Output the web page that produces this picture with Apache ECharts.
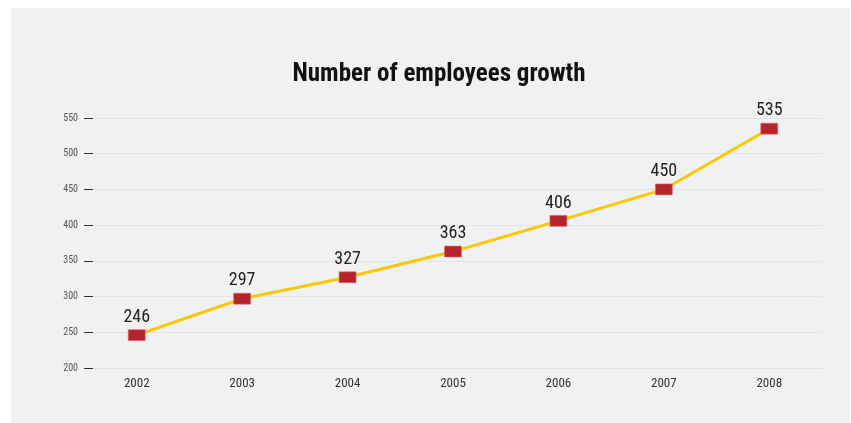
<!DOCTYPE html>
<html>
<head>
<meta charset="utf-8">
<script src="https://cdn.jsdelivr.net/npm/echarts@6/dist/echarts.min.js"></script>
<style>
html,body{margin:0;padding:0;background:#ffffff;}
#panel{position:absolute;left:11px;top:8px;width:839px;height:415px;background:#f0f1f3;}
#chart{position:absolute;left:0;top:0;width:851px;height:423px;}
</style>
</head>
<body>
<div id="panel"></div>
<div id="chart"></div>
<script>
const years = ['2002','2003','2004','2005','2006','2007','2008'];
const employees = [246, 297, 327, 363, 406, 450, 535];
const yTicks = [200, 250, 300, 350, 400, 450, 500, 550];

const FONT = '"Roboto Condensed","Liberation Sans Narrow",sans-serif';
const chart = echarts.init(document.getElementById('chart'), null, {renderer:'canvas'});
chart.setOption({
  backgroundColor: 'transparent',
  animation: false,
  title: {
    text: 'Number of employees growth',
    left: 434, top: 57, textAlign: 'center',
    textStyle: {fontFamily: FONT, fontSize: 25, fontWeight: 'bold', color: '#111'}
  },
  grid: {left: 84, right: 29, top: 118, bottom: 55},
  xAxis: {
    type: 'category',
    data: years,
    boundaryGap: true,
    axisLine: {show: true, lineStyle: {color: '#dfe0e3', width: 1}},
    axisTick: {show: false},
    axisLabel: {fontFamily: FONT, fontSize: 13, color: '#333', margin: 9}
  },
  yAxis: {
    type: 'value',
    min: yTicks[0], max: yTicks[yTicks.length-1], interval: 50,
    axisLine: {show: false},
    axisTick: {show: true, inside: true, length: 9, lineStyle: {color: '#333', width: 1}},
    splitLine: {show: true, lineStyle: {color: '#e2e3e6', width: 1}},
    axisLabel: {fontFamily: FONT, fontSize: 10, color: '#555', margin: 6}
  },
  series: [{
    type: 'line',
    data: employees,
    symbol: 'rect',
    symbolSize: [17, 11],
    lineStyle: {color: '#f9c800', width: 3},
    itemStyle: {color: '#b5232b', borderColor: '#d9757a', borderWidth: 0.6},
    label: {show: true, position: 'top', distance: 3, fontFamily: FONT, fontSize: 18, color: '#222'},
    z: 3
  }]
});
</script>
</body>
</html>
